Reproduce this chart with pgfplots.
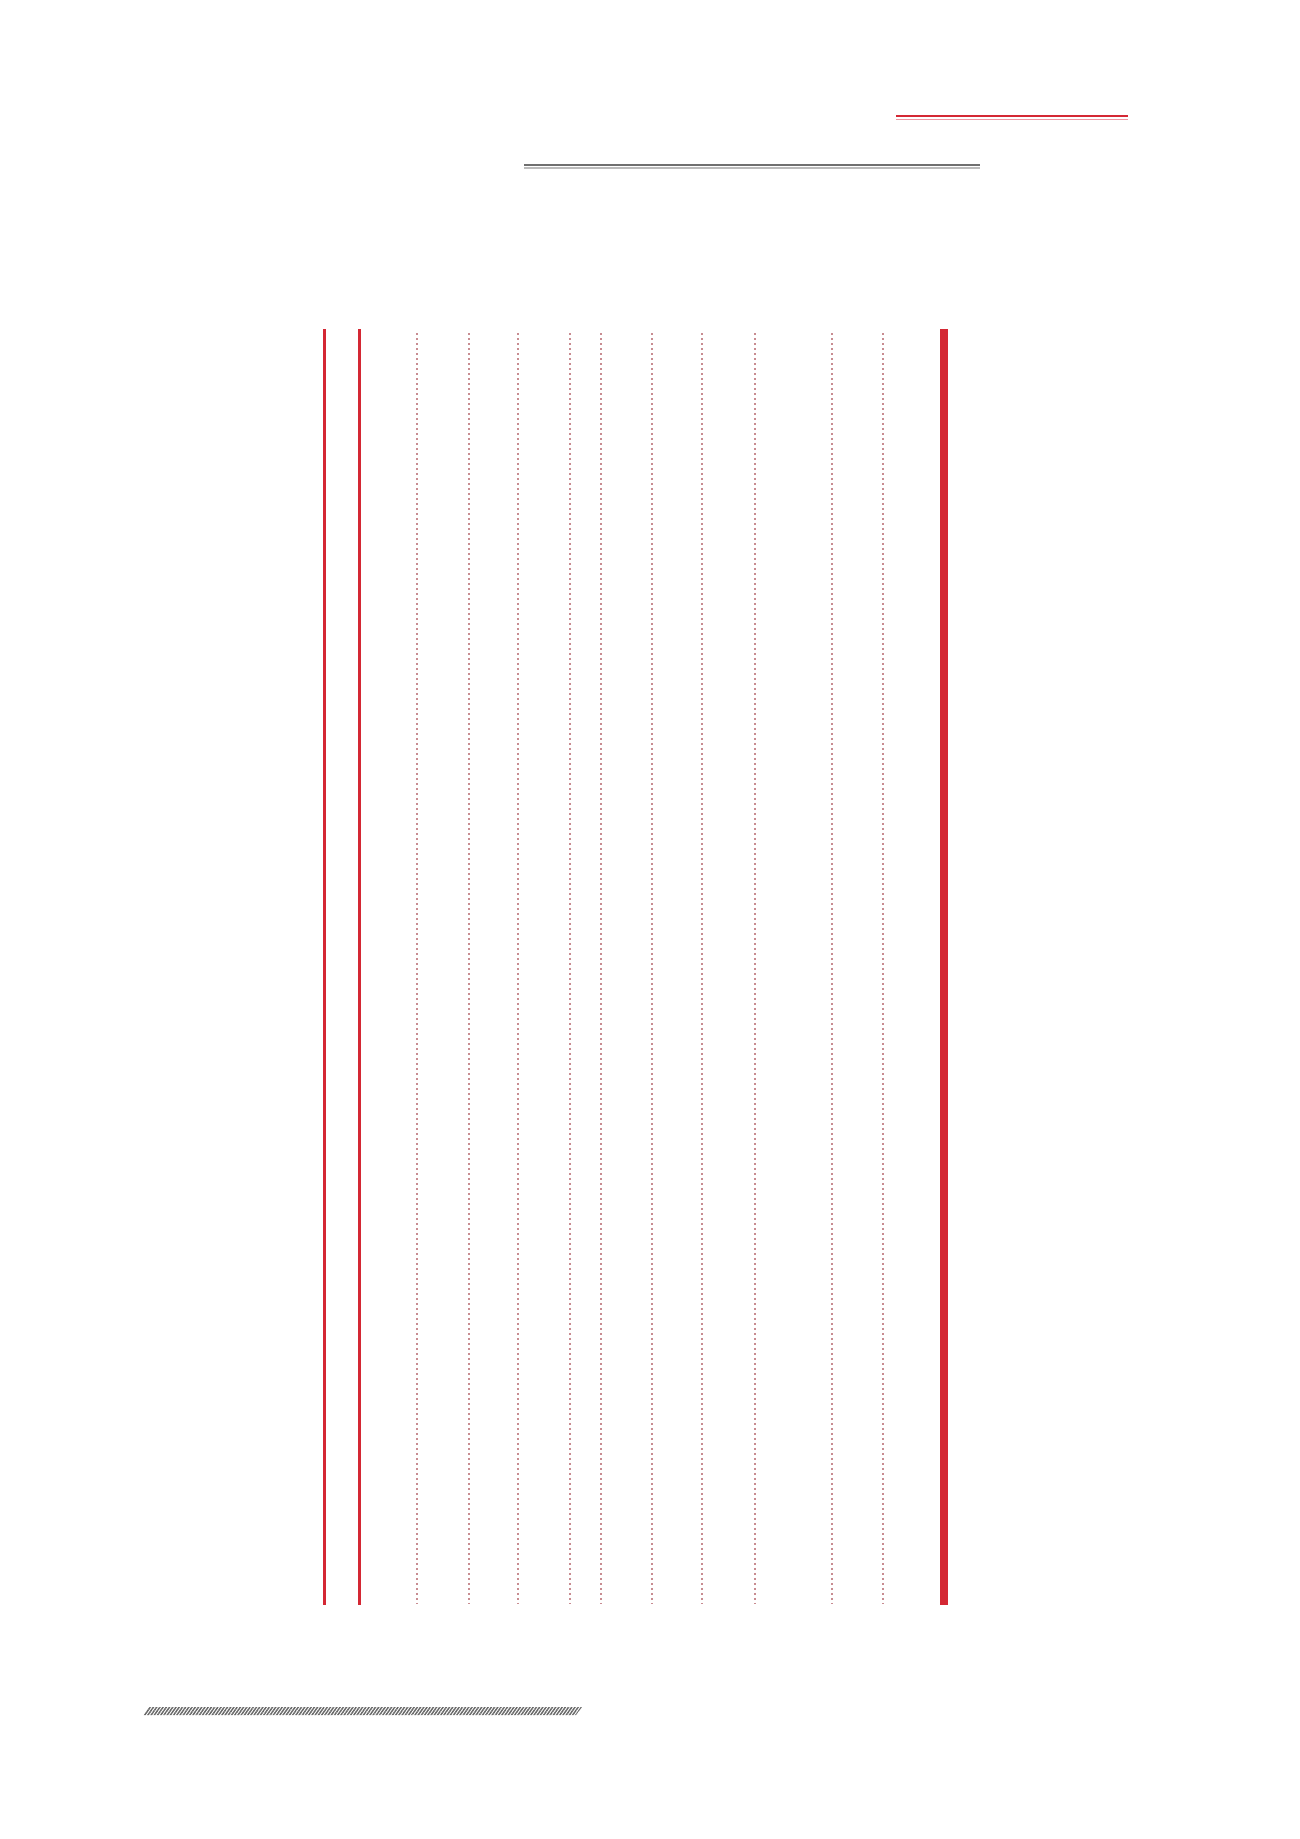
\documentclass[border=0pt]{standalone}
\usepackage{pgfplots}
\pgfplotsset{compat=1.18}
\usetikzlibrary{patterns.meta}
\definecolor{barred}{RGB}{212,40,52}
\definecolor{pinkline}{RGB}{238,150,162}
\definecolor{dotred}{RGB}{200,140,145}
\definecolor{darkgrey}{RGB}{112,112,112}
\definecolor{lightgrey}{RGB}{187,187,187}
\definecolor{hatchgrey}{RGB}{105,105,105}
\begin{document}
\begin{tikzpicture}
% axis in picture pixels (1 px = 0.1 mm), y counted from the top
\begin{axis}[
    scale only axis,
    width=13cm, height=18.39cm,
    xmin=0, xmax=1300, ymin=0, ymax=1839,
    y dir=reverse,
    axis line style={draw=none},
    ticks=none,
    clip=false,
]
% two thin red rules
\addplot [barred, line width=0.3mm] coordinates {(324,329) (324,1605)};
\addplot [barred, line width=0.3mm] coordinates {(359,329) (359,1605)};

% dotted reference lines
\pgfplotsinvokeforeach{417,469,518,570,601,652,702,755,832,883}{
  \addplot [dotred, line width=0.17mm, dash pattern=on 0.17mm off 0.33mm]
    coordinates {(#1,333) (#1,1604)};
}

% thick red bar
\addplot [barred, line width=0.8mm] coordinates {(944,329) (944,1605)};

% red double rule, top right
\addplot [barred, line width=0.2mm] coordinates {(896,116.5) (1128,116.5)};
\addplot [pinkline, line width=0.18mm] coordinates {(896,119.5) (1128,119.5)};

% grey double rule
\addplot [darkgrey, line width=0.2mm] coordinates {(524,165) (980,165)};
\addplot [lightgrey, line width=0.2mm] coordinates {(524,168) (980,168)};

% hatched band at the bottom
\addplot [draw=none, pattern={Lines[angle=55,distance=0.75pt,line width=0.42pt]},
  pattern color=hatchgrey]
  coordinates {(143,1715) (576,1715) (582,1707) (149,1707) (143,1715)};
\end{axis}
\end{tikzpicture}
\end{document}
